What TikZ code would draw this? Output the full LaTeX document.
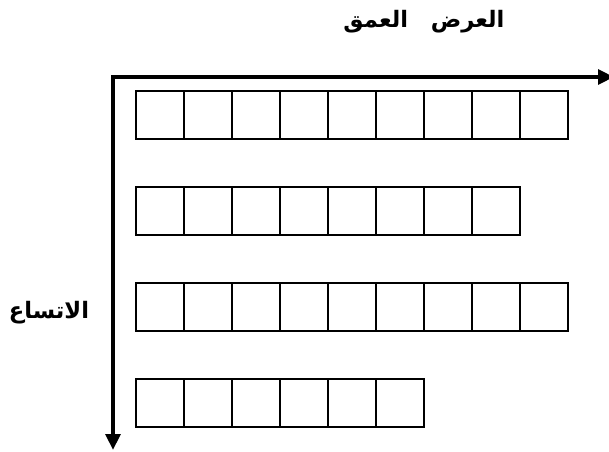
\documentclass[tikz,border=0pt]{standalone}
\usepackage{fontspec}
\newfontfamily\arabicfont[Script=Arabic]{DejaVu Sans}
\TeXXeTstate=1
\usetikzlibrary{arrows.meta}

\begin{document}
\begin{tikzpicture}[x=0.75pt,y=-0.75pt,>={Triangle[length=12pt,width=11pt]},
                    cell/.style={draw,line width=1.1pt,minimum size=36pt,inner sep=0pt},
                    axis/.style={<->,line width=2.9pt},
                    label/.style={font=\arabicfont\bfseries\fontsize{17}{19}\selectfont}]
  \useasboundingbox (0,0) rectangle (609,452);

  \coordinate (origin) at (113,77);
  \coordinate (xend)   at (614,77);
  \coordinate (yend)   at (113,450);
  \draw[axis] (xend) -- (origin) -- (yend);

  \node[label] (width)   at (424,22)  {\beginR العرض\quad العمق\endR};
  \node[label] (expanse) at (49,313)  {\beginR الاتساع\endR};

  \foreach \row/\n in {1/9,2/8,3/9,4/6}
    \foreach \col in {1,...,\n}
      \node[cell] (c\row-\col) at ({160+48*(\col-1)},{115+96*(\row-1)}) {};
\end{tikzpicture}
\end{document}
